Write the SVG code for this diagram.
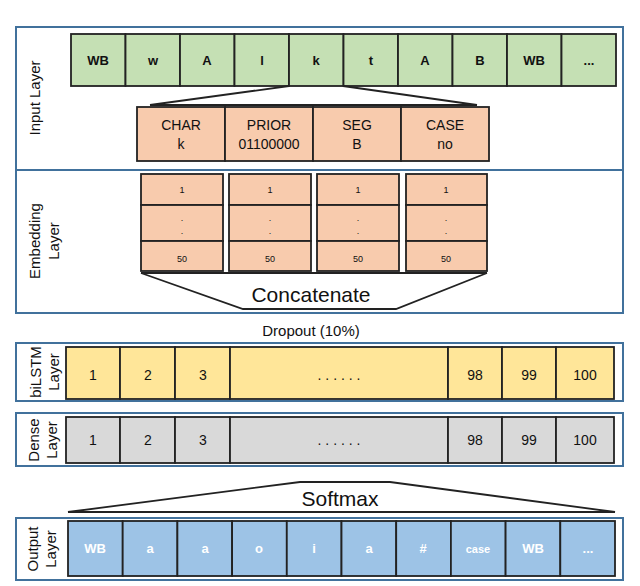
<svg xmlns="http://www.w3.org/2000/svg" width="640" height="586" viewBox="0 0 640 586">
<style>
.frame{fill:#fff;stroke:#41719c;stroke-width:2}
.c{stroke:#222;stroke-width:1.8}
.g{fill:#c5e0b4}.p{fill:#f8cbad}.y{fill:#ffe699}.d{fill:#d9d9d9}.b{fill:#9dc3e6}
text{font-family:"Liberation Sans",Arial,sans-serif;text-anchor:middle;fill:#111}
.bold{font-weight:bold;font-size:13px}
.w{fill:#fff}
.lab{font-size:15px}
.m{font-size:14px}
.s{font-size:9px}
.con{fill:none;stroke:#222;stroke-width:1.8}
</style>
<g id="input-layer">
<rect class="frame" x="16" y="27" width="607" height="176"/>
<text class="lab" transform="translate(40,98) rotate(-90)">Input Layer</text>
<g class="bold">
<rect class="c g" x="71" y="34" width="54.5" height="52"/><text x="98" y="65" class="bold">WB</text>
<rect class="c g" x="125.5" y="34" width="54.5" height="52"/><text x="153" y="65" class="bold">w</text>
<rect class="c g" x="180" y="34" width="54.5" height="52"/><text x="207" y="65" class="bold">A</text>
<rect class="c g" x="234.5" y="34" width="54.5" height="52"/><text x="262" y="65" class="bold">l</text>
<rect class="c g" x="289" y="34" width="54.5" height="52"/><text x="316" y="65" class="bold">k</text>
<rect class="c g" x="343.5" y="34" width="54.5" height="52"/><text x="371" y="65" class="bold">t</text>
<rect class="c g" x="398" y="34" width="54.5" height="52"/><text x="425" y="65" class="bold">A</text>
<rect class="c g" x="452.5" y="34" width="54.5" height="52"/><text x="480" y="65" class="bold">B</text>
<rect class="c g" x="507" y="34" width="54.5" height="52"/><text x="534" y="65" class="bold">WB</text>
<rect class="c g" x="561.5" y="34" width="54.5" height="52"/><text x="589" y="65" class="bold">...</text>
</g>
</g>
<g id="features">
<rect class="c p" x="137" y="107" width="88" height="54"/><text class="m" x="181" y="130">CHAR</text><text class="m" x="181" y="149">k</text>
<rect class="c p" x="225" y="107" width="88" height="54"/><text class="m" x="269" y="130">PRIOR</text><text class="m" x="269" y="149">01100000</text>
<rect class="c p" x="313" y="107" width="88" height="54"/><text class="m" x="357" y="130">SEG</text><text class="m" x="357" y="149">B</text>
<rect class="c p" x="401" y="107" width="88" height="54"/><text class="m" x="445" y="130">CASE</text><text class="m" x="445" y="149">no</text>
</g>
<g id="embedding-layer">
<rect class="frame" x="16" y="170" width="607" height="143"/>
<text class="lab" transform="translate(40,241) rotate(-90)">Embedding</text>
<text class="lab" transform="translate(59,241) rotate(-90)">Layer</text>
<g id="emb1"><rect class="c p" x="141" y="174" width="82" height="31"/><rect class="c p" x="141" y="205" width="82" height="36"/><rect class="c p" x="141" y="241" width="82" height="30"/><text class="s" x="182" y="193">1</text><text class="s" x="182" y="221">.</text><text class="s" x="182" y="234">.</text><text class="s" x="182" y="262">50</text></g>
<g id="emb2"><rect class="c p" x="229" y="174" width="82" height="31"/><rect class="c p" x="229" y="205" width="82" height="36"/><rect class="c p" x="229" y="241" width="82" height="30"/><text class="s" x="270" y="193">1</text><text class="s" x="270" y="221">.</text><text class="s" x="270" y="234">.</text><text class="s" x="270" y="262">50</text></g>
<g id="emb3"><rect class="c p" x="317" y="174" width="82" height="31"/><rect class="c p" x="317" y="205" width="82" height="36"/><rect class="c p" x="317" y="241" width="82" height="30"/><text class="s" x="358" y="193">1</text><text class="s" x="358" y="221">.</text><text class="s" x="358" y="234">.</text><text class="s" x="358" y="262">50</text></g>
<g id="emb4"><rect class="c p" x="406" y="174" width="81" height="31"/><rect class="c p" x="406" y="205" width="81" height="36"/><rect class="c p" x="406" y="241" width="81" height="30"/><text class="s" x="446" y="193">1</text><text class="s" x="446" y="221">.</text><text class="s" x="446" y="234">.</text><text class="s" x="446" y="262">50</text></g>
<text x="311" y="302" style="font-size:21px">Concatenate</text>
</g>
<g id="connectors">
<polyline class="con" points="150,105 289,86"/>
<polyline class="con" points="343,86 477,105"/>
<line class="con" x1="150" y1="105" x2="477" y2="105"/>
<polyline class="con" points="141,273 243,309 396,309 487,273"/>
<line class="con" x1="141" y1="273" x2="487" y2="273"/>
<polygon class="con" points="300,482 390,482 615,512 68,512"/>
</g>
<text x="311" y="336" style="font-size:15px">Dropout (10%)</text>
<g id="bilstm-layer">
<rect class="frame" x="16" y="343" width="607" height="58"/>
<text class="lab" transform="translate(41,372) rotate(-90)">biLSTM</text>
<text class="lab" transform="translate(59,372) rotate(-90)">Layer</text>
<rect class="c y" x="66" y="347" width="54" height="52"/><text class="m" x="93" y="380">1</text>
<rect class="c y" x="120" y="347" width="55" height="52"/><text class="m" x="148" y="380">2</text>
<rect class="c y" x="175" y="347" width="55" height="52"/><text class="m" x="203" y="380">3</text>
<rect class="c y" x="230" y="347" width="218" height="52"/><text class="m" x="339" y="380">. . . . . .</text>
<rect class="c y" x="448" y="347" width="54" height="52"/><text class="m" x="475" y="380">98</text>
<rect class="c y" x="502" y="347" width="54" height="52"/><text class="m" x="529" y="380">99</text>
<rect class="c y" x="556" y="347" width="58" height="52"/><text class="m" x="585" y="380">100</text>
</g>
<g id="dense-layer">
<rect class="frame" x="16" y="413" width="607" height="53"/>
<text class="lab" transform="translate(39,440) rotate(-90)">Dense</text>
<text class="lab" transform="translate(57,440) rotate(-90)">Layer</text>
<rect class="c d" x="66" y="417" width="54" height="46"/><text class="m" x="93" y="445">1</text>
<rect class="c d" x="120" y="417" width="55" height="46"/><text class="m" x="148" y="445">2</text>
<rect class="c d" x="175" y="417" width="55" height="46"/><text class="m" x="203" y="445">3</text>
<rect class="c d" x="230" y="417" width="218" height="46"/><text class="m" x="339" y="445">. . . . . .</text>
<rect class="c d" x="448" y="417" width="54" height="46"/><text class="m" x="475" y="445">98</text>
<rect class="c d" x="502" y="417" width="54" height="46"/><text class="m" x="529" y="445">99</text>
<rect class="c d" x="556" y="417" width="58" height="46"/><text class="m" x="585" y="445">100</text>
</g>
<text x="340" y="506" style="font-size:21px">Softmax</text>
<g id="output-layer">
<rect class="frame" x="16" y="518" width="607" height="62"/>
<text class="lab" transform="translate(38,549) rotate(-90)">Output</text>
<text class="lab" transform="translate(56,549) rotate(-90)">Layer</text>
<rect class="c b" x="68" y="521" width="54.7" height="55"/><text class="bold w" x="95" y="553">WB</text>
<rect class="c b" x="122.7" y="521" width="54.7" height="55"/><text class="bold w" x="150" y="553">a</text>
<rect class="c b" x="177.4" y="521" width="54.7" height="55"/><text class="bold w" x="205" y="553">a</text>
<rect class="c b" x="232.1" y="521" width="54.7" height="55"/><text class="bold w" x="259" y="553">o</text>
<rect class="c b" x="286.8" y="521" width="54.7" height="55"/><text class="bold w" x="314" y="553">i</text>
<rect class="c b" x="341.5" y="521" width="54.7" height="55"/><text class="bold w" x="369" y="553">a</text>
<rect class="c b" x="396.2" y="521" width="54.7" height="55"/><text class="bold w" x="423" y="553">#</text>
<rect class="c b" x="450.9" y="521" width="54.7" height="55"/><text class="bold w" x="478" y="553" style="font-size:11px">case</text>
<rect class="c b" x="505.6" y="521" width="54.7" height="55"/><text class="bold w" x="533" y="553">WB</text>
<rect class="c b" x="560.3" y="521" width="54.7" height="55"/><text class="bold w" x="588" y="553">...</text>
</g>
</svg>
